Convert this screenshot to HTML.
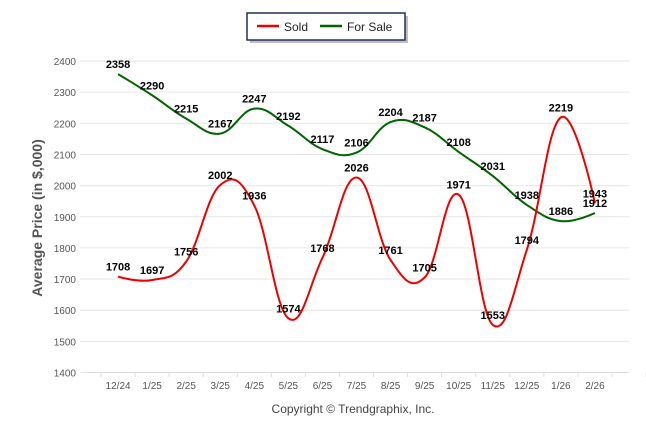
<!DOCTYPE html>
<html><head><meta charset="utf-8"><style>
body{margin:0;background:#fff;}
svg{display:block;font-family:"Liberation Sans",sans-serif;}
</style></head><body>
<svg id="chart" width="646" height="434" viewBox="0 0 646 434">
<g id="grid"></g>
<g id="yticks"></g>
<g id="xticks"></g>
<g id="series"></g>
<g id="labels"></g>
<text x="0" y="0" transform="translate(42,218) rotate(-90)" text-anchor="middle" font-size="14" font-weight="bold" fill="#555">Average Price (in $,000)</text>
<text x="353" y="413" text-anchor="middle" font-size="12" fill="#444">Copyright © Trendgraphix, Inc.</text>
<g>
<rect x="248" y="14" width="158" height="27" fill="#000" opacity="0.25" transform="translate(2,2)"/>
<rect x="247" y="13" width="158" height="27" fill="#fff" stroke="#1f2f5f" stroke-width="1.5"/>
<g><line x1="257" y1="26" x2="279" y2="26" stroke="#ee0000" stroke-width="2.5"/><text x="284" y="31" font-size="12" fill="#222">Sold</text></g>
<g><line x1="320" y1="26" x2="342" y2="26" stroke="#006400" stroke-width="2.5"/><text x="347" y="31" font-size="12" fill="#222">For Sale</text></g>
</g>
</svg>
<script>
const categories=["12/24","1/25","2/25","3/25","4/25","5/25","6/25","7/25","8/25","9/25","10/25","11/25","12/25","1/26","2/26"];
const soldValues=[1708,1697,1756,2002,1936,1574,1768,2026,1761,1705,1971,1553,1794,2219,1943];
const forSaleValues=[2358,2290,2215,2167,2247,2192,2117,2106,2204,2187,2108,2031,1938,1886,1912];
const yTicks=[1400,1500,1600,1700,1800,1900,2000,2100,2200,2300,2400];
const NS="http://www.w3.org/2000/svg";
const L=84,R=629,band=(R-L)/16;
function xPos(i){return L+band*(i+1);}
function yPos(v){return 372.5-(v-1400)*(311.5/1000);}
function mk(tag,attrs,parent){const e=document.createElementNS(NS,tag);for(const k in attrs)e.setAttribute(k,attrs[k]);parent.appendChild(e);return e;}
const grid=document.getElementById('grid'),yt=document.getElementById('yticks'),xt=document.getElementById('xticks');
yTicks.forEach(v=>{
 const g=mk('line',{x1:80,x2:R,y1:yPos(v),y2:yPos(v),stroke:'#e6e6e6','stroke-width':1},grid);
 
 
 const t=mk('text',{x:76,y:yPos(v)+4,'text-anchor':'end','font-size':10,fill:'#555'},yt);
 t.textContent=v;
 
 
});
mk('line',{x1:L,x2:R,y1:372.5,y2:372.5,stroke:'#ddd'},grid);
for(let i=0;i<=16;i++){mk('line',{x1:L+band*i+band/2,x2:L+band*i+band/2,y1:372.5,y2:377,stroke:'#ddd'},grid);}
categories.forEach((c,i)=>{
 const t=mk('text',{x:xPos(i),y:389,'text-anchor':'middle','font-size':10,fill:'#555'},xt);
 t.textContent=c;
 
 
});
function splinePath(vals){
 const pts=vals.map((v,i)=>[xPos(i),yPos(v)]);
 const s=1.5,d=2.5;
 const ctrl=pts.map((p,i)=>{
  if(i===0||i===pts.length-1)return [p[0],p[1],p[0],p[1]];
  const a=pts[i-1],b=pts[i+1];
  let lx=(s*p[0]+a[0])/d,ly=(s*p[1]+a[1])/d,rx=(s*p[0]+b[0])/d,ry=(s*p[1]+b[1])/d;
  const corr=((ry-ly)*(rx-p[0]))/(rx-lx)+p[1]-ry;ly+=corr;ry+=corr;
  return [lx,ly,rx,ry];
 });
 let dstr='M'+pts[0][0]+' '+pts[0][1];
 for(let i=1;i<pts.length;i++){
  dstr+=' C'+ctrl[i-1][2]+' '+ctrl[i-1][3]+' '+ctrl[i][0]+' '+ctrl[i][1]+' '+pts[i][0]+' '+pts[i][1];
 }
 return dstr;
}
const ser=document.getElementById('series'),lab=document.getElementById('labels');
[[forSaleValues,'#006400','for-sale-line'],[soldValues,'#ee0000','sold-line']].forEach(([vals,col,name])=>{
 const p=mk('path',{d:splinePath(vals),fill:'none',stroke:col,'stroke-width':2},ser);
 
 
 vals.forEach((v,i)=>{
  const t=mk('text',{x:xPos(i),y:yPos(v)-6,'text-anchor':'middle','font-size':11,'font-weight':'bold',fill:'#000'},lab);
  t.textContent=v;
  
  
 });
});
</script>
</body></html>
